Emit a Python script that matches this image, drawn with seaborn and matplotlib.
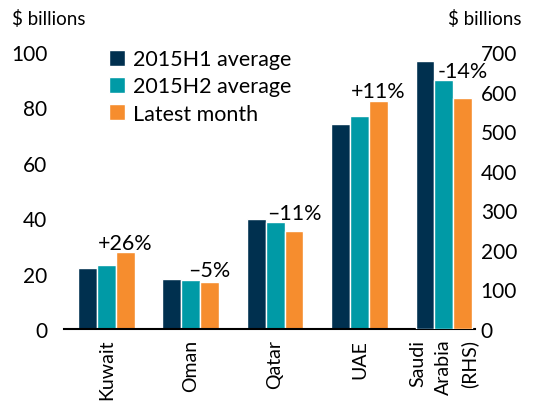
import numpy as np
import pandas as pd
import matplotlib
matplotlib.use('Agg')
import matplotlib.pyplot as plt
import seaborn as sns

countries = ['Kuwait', 'Oman', 'Qatar', 'UAE', 'Saudi\nArabia\n(RHS)']
series = ['2015H1 average', '2015H2 average', 'Latest month']
h1 = [22.0, 18.0, 39.7, 74.1, 677]
h2 = [23.0, 17.8, 38.6, 77.0, 629]
latest = [27.7, 17.1, 35.3, 82.3, 584]
changes = ['+26%', '\u20135%', '\u201311%', '+11%', '-14%']
rhs = [False, False, False, False, True]
colors = ['#00304F', '#009AA6', '#F68D2E']

rows = []
for c, a, b, l, r in zip(countries, h1, h2, latest, rhs):
    for s, v in zip(series, [a, b, l]):
        rows.append({'country': c, 'series': s, 'value': v, 'rhs': r})
df = pd.DataFrame(rows)

sns.set_theme(style='white')
plt.rcParams['font.family'] = ['Lato', 'DejaVu Sans']
plt.rcParams['text.color'] = 'black'
plt.rcParams['xtick.color'] = 'black'
plt.rcParams['ytick.color'] = 'black'

fig = plt.figure(figsize=(5.48, 4.02), dpi=100)
ax = fig.add_axes([0.117, 0.179, 0.75, 0.689])
sns.barplot(data=df[~df['rhs']], x='country', y='value', hue='series', order=countries,
            hue_order=series, palette=colors, width=0.67, saturation=1, errorbar=None, ax=ax)
ax2 = ax.twinx()
sns.barplot(data=df[df['rhs']], x='country', y='value', hue='series', order=countries,
            hue_order=series, palette=colors, width=0.67, saturation=1, errorbar=None,
            legend=False, ax=ax2)

ax.set_xlim(-0.5, 4.37)
ax.set_ylim(0, 100)
ax2.set_ylim(0, 700)
ax.set_yticks(range(0, 101, 20))
ax2.set_yticks(range(0, 701, 100))
ax.set_xlabel('')
ax.set_ylabel('')
ax2.set_ylabel('')

for a in (ax, ax2):
    for sp in ['top', 'left', 'right']:
        a.spines[sp].set_visible(False)
    a.tick_params(length=0, labelsize=15)
ax.spines['bottom'].set_visible(True)
ax.spines['bottom'].set_color('black')
ax.spines['bottom'].set_linewidth(1.5)
ax2.spines['bottom'].set_visible(False)
ax.tick_params(axis='y', pad=12)
ax2.tick_params(axis='y', pad=4)
ax.set_xticks(range(len(countries)))
ax.set_xticklabels(countries, rotation=90, fontsize=14, va='top', ha='center',
                   multialignment='right', linespacing=1.6)
ax.tick_params(axis='x', pad=7)

# percentage change labels above the latest-month bar
bw = 0.67 / 3
for i, (b, l, t, r) in enumerate(zip(h2, latest, changes, rhs)):
    top = max(b, l) / 7 if r else max(b, l)
    ax.text(i + bw, top + 1.3, t, ha='center', va='baseline', fontsize=15.5)

leg = ax.legend(frameon=False, loc='upper left', bbox_to_anchor=(0.11, 1.01),
                fontsize=15.5, handlelength=0.75, handleheight=0.75, handletextpad=0.35,
                labelspacing=0.33, borderpad=0, borderaxespad=0)

fig.text(12 / 548, 1 - 19 / 402, '$ billions', ha='left', va='center', fontsize=13.5)
fig.text(521 / 548, 1 - 19 / 402, '$ billions', ha='right', va='center', fontsize=13.5)

fig.savefig('out.png', dpi=100)
